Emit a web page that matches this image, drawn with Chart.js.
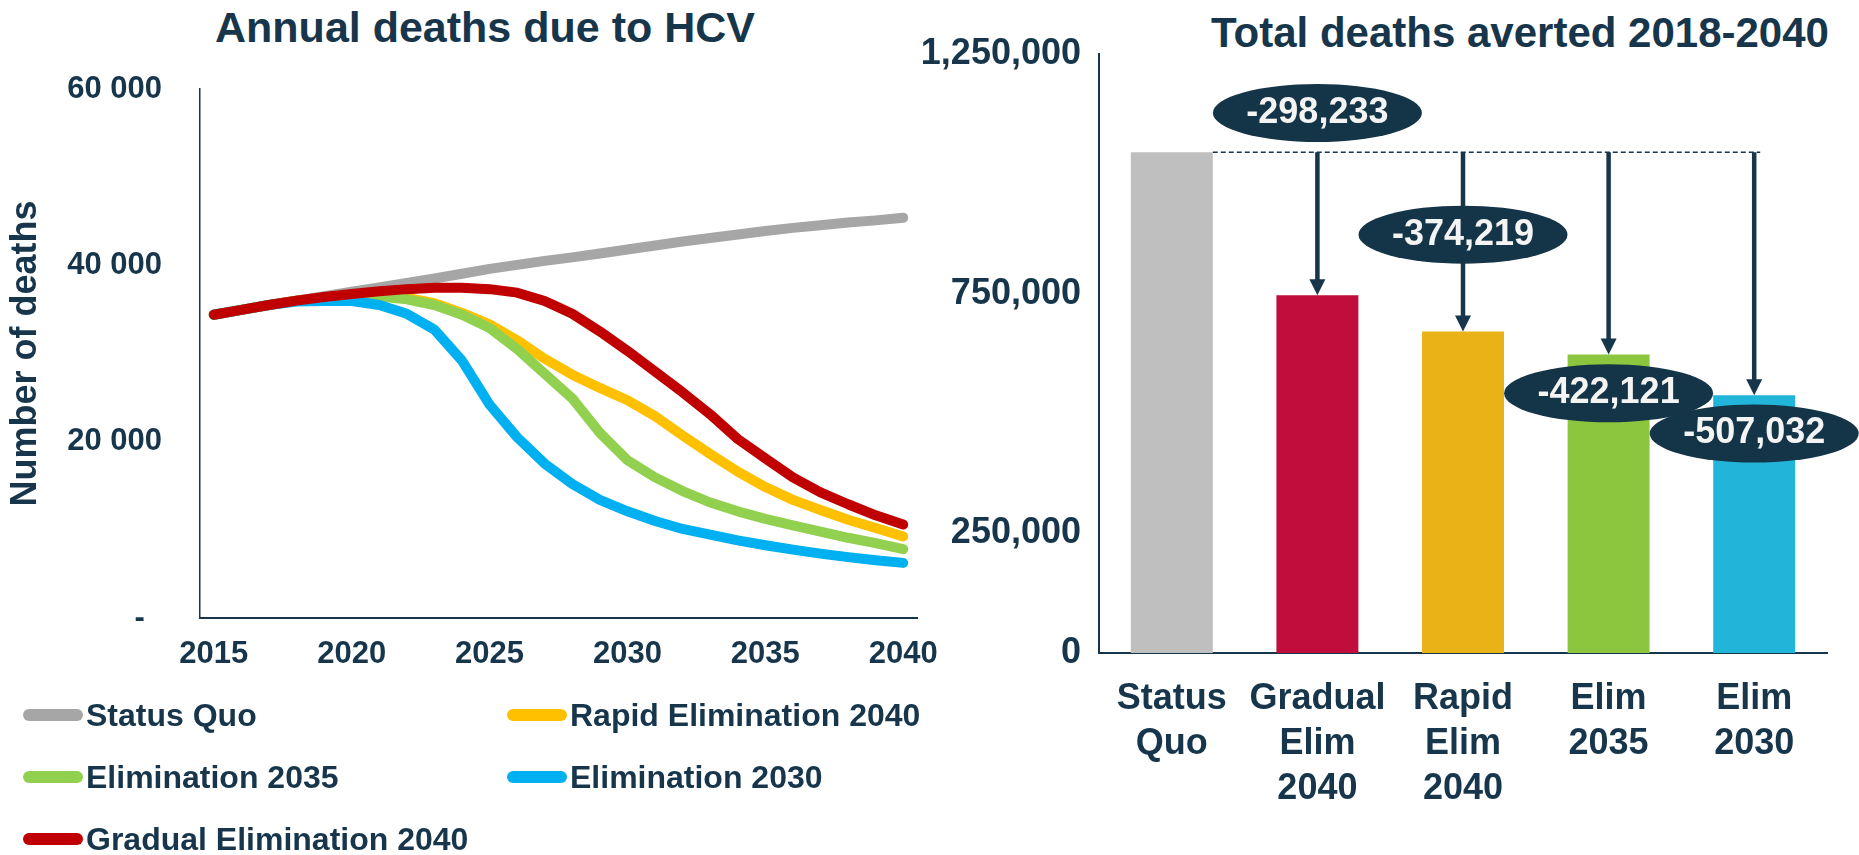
<!DOCTYPE html>
<html>
<head>
<meta charset="utf-8">
<title>HCV deaths</title>
<script src="https://cdn.jsdelivr.net/npm/chart.js@4"></script>
<style>
    html, body { margin: 0; padding: 0; background: #fff; }
    body {
        position: relative; width: 1859px; height: 855px; overflow: hidden;
        font-family: 'Liberation Sans', Arial, sans-serif; font-weight: bold; color: #17364B;
    }
    .title { position: absolute; width: 700px; text-align: center; white-space: nowrap; }
    #lineChart { position: absolute; left: 0; top: 0; }
    #barChart  { position: absolute; left: 910px; top: 0; }
    #legend {
        position: absolute; left: 23px; top: 684px;
        display: grid; grid-template-columns: 484px auto; grid-auto-rows: 62px; align-items: center;
        font-size: 32px; line-height: 32px;
    }
    .lg-item { display: flex; align-items: center; white-space: nowrap; }
    .lg-swatch { width: 60px; height: 12px; border-radius: 6px; margin-right: 3px; }
</style>
</head>
<body>

<div class="title" style="left:135px; top:6px; font-size:43px; line-height:43px;">Annual deaths due to HCV</div>
<div class="title" style="left:1170px; top:12px; font-size:42px; line-height:42px;">Total deaths averted 2018-2040</div>

<canvas id="lineChart" width="960" height="700"></canvas>
<canvas id="barChart" width="949" height="855"></canvas>
<div id="legend"></div>

<script>
'use strict';

/* ── Data: annual deaths due to HCV ─────────────────────────────────────── */
const YEARS = [2015, 2016, 2017, 2018, 2019, 2020, 2021, 2022, 2023, 2024, 2025, 2026, 2027,
               2028, 2029, 2030, 2031, 2032, 2033, 2034, 2035, 2036, 2037, 2038, 2039, 2040];

const STATUS_QUO  = [34400, 34950, 35500, 36000, 36500, 37000, 37500, 38000, 38500, 39050, 39600, 40050, 40500,
                     40900, 41350, 41800, 42250, 42700, 43100, 43500, 43900, 44250, 44550, 44850, 45100, 45400];
const RAPID_2040  = [34400, 34950, 35500, 36000, 36300, 36500, 36500, 36300, 35700, 34600, 33300, 31500, 29400,
                     27600, 26100, 24700, 22900, 20700, 18600, 16600, 14850, 13400, 12250, 11150, 10200, 9250];
const ELIM_2035   = [34400, 34950, 35500, 36000, 36300, 36500, 36450, 36150, 35500, 34400, 32900, 30500, 27700,
                     24900, 21000, 17900, 15950, 14400, 13100, 12100, 11250, 10500, 9800, 9100, 8500, 7800];
const ELIM_2030   = [34400, 34950, 35500, 35900, 35950, 35950, 35500, 34500, 32700, 29200, 24200, 20500, 17500,
                     15200, 13400, 12100, 11000, 10100, 9450, 8800, 8250, 7750, 7300, 6900, 6550, 6250];
const GRADUAL_2040 = [34400, 34950, 35500, 36000, 36400, 36750, 37050, 37300, 37450, 37450, 37300, 36900, 35950,
                      34500, 32500, 30300, 27950, 25600, 23100, 20300, 18100, 15950, 14250, 12900, 11650, 10600];

const SERIES_NAMES  = ['Status Quo', 'Rapid Elimination 2040', 'Elimination 2035', 'Elimination 2030', 'Gradual Elimination 2040'];
const SERIES_VALUES = [STATUS_QUO, RAPID_2040, ELIM_2035, ELIM_2030, GRADUAL_2040];
const SERIES_COLORS = ['#A6A6A6', '#FFC000', '#92D050', '#00B0F0', '#C00000'];

const Y_TICKS = [0, 20000, 40000, 60000];

/* ── Data: total deaths 2018-2040 ────────────────────────────────────────── */
const BAR_LABELS = [['Status', 'Quo'], ['Gradual', 'Elim', '2040'], ['Rapid', 'Elim', '2040'], ['Elim', '2035'], ['Elim', '2030']];
const BAR_VALUES = [1045000, 746767, 670781, 622879, 537968];
const AVERTED    = [298233, 374219, 422121, 507032];
const BAR_COLORS = ['#BFBFBF', '#C00D3C', '#E9B317', '#8CC63E', '#22B5DA'];
const BAR_TICKS_SHOWN = [0, 250000, 750000, 1250000];

/* ── Style ───────────────────────────────────────────────────────────────── */
const NAVY = '#17364B';
const BUBBLE = '#143447';
const FONT = "'Liberation Sans', Arial, sans-serif";
const BUBBLE_AT = [1127000, 873000, 542000, 458000];   // bubble centres, in axis units

const spaced = v => String(v).replace(/\B(?=(\d{3})+(?!\d))/g, ' ');

/* ── Legend (HTML, two columns) ──────────────────────────────────────────── */
const legend = document.getElementById('legend');
SERIES_NAMES.forEach((name, i) => {
    const item = document.createElement('div');
    item.className = 'lg-item';
    item.innerHTML = `<span class="lg-swatch" style="background:${SERIES_COLORS[i]}"></span><span>${name}</span>`;
    legend.appendChild(item);
});

/* ── 1. Annual deaths line chart ─────────────────────────────────────────── */
new Chart(document.getElementById('lineChart'), {
    type: 'line',
    data: {
        labels: YEARS,
        datasets: SERIES_NAMES.map((name, i) => ({
            label: name,
            data: SERIES_VALUES[i],
            borderColor: SERIES_COLORS[i],
            backgroundColor: SERIES_COLORS[i],
            order: SERIES_NAMES.length - 1 - i,   // last series drawn on top
        })),
    },
    options: {
        responsive: false,
        animation: false,
        layout: { padding: { top: 89, right: 43, bottom: 0, left: 0 } },
        elements: {
            point: { radius: 0 },
            line: { tension: 0, borderWidth: 10, borderCapStyle: 'round', borderJoinStyle: 'round' },
        },
        plugins: { legend: { display: false }, tooltip: { enabled: false } },
        scales: {
            x: {
                offset: true,
                grid: { display: false, drawTicks: false },
                border: { color: NAVY, width: 2 },
                ticks: {
                    autoSkip: false, maxRotation: 0, padding: 18, color: NAVY,
                    font: { family: FONT, size: 31, weight: 'bold' },
                    callback: (v, i) => (YEARS[i] % 5 === 0 ? String(YEARS[i]) : ''),
                },
                afterFit: s => { s.height = 82; },
            },
            y: {
                min: 0, max: 60000,
                afterBuildTicks: s => { s.ticks = Y_TICKS.map(v => ({ value: v })); },
                grid: { display: false, drawTicks: false },
                border: { color: NAVY, width: 1.5 },
                ticks: {
                    padding: 38, color: NAVY,
                    font: { family: FONT, size: 31, weight: 'bold' },
                    callback: v => (v === 0 ? '-  ' : spaced(v)),
                },
                title: {
                    display: true, text: 'Number of deaths', color: NAVY,
                    font: { family: FONT, size: 36, weight: 'bold' },
                    padding: { top: 4, bottom: 0 },
                },
                afterFit: s => { s.width = 200; },
            },
        },
    },
});

/* ── 2. Deaths averted bar chart ─────────────────────────────────────────── */
const avertedArrows = {
    id: 'avertedArrows',
    afterDatasetsDraw(chart) {
        const { ctx, scales: { y } } = chart;
        const bars = chart.getDatasetMeta(0).data;
        const baseY = bars[0].y;
        ctx.save();

        // dashed reference line at the status-quo level
        ctx.strokeStyle = NAVY;
        ctx.lineWidth = 1.5;
        ctx.setLineDash([5, 3]);
        ctx.beginPath();
        ctx.moveTo(bars[0].x + bars[0].width / 2, baseY);
        ctx.lineTo(bars[bars.length - 1].x + 6, baseY);
        ctx.stroke();
        ctx.setLineDash([]);

        // arrows down to each scenario
        ctx.fillStyle = NAVY;
        ctx.lineWidth = 4.5;
        for (let i = 1; i < bars.length; i++) {
            const b = bars[i];
            ctx.beginPath();
            ctx.moveTo(b.x, baseY);
            ctx.lineTo(b.x, b.y - 14);
            ctx.stroke();
            ctx.beginPath();
            ctx.moveTo(b.x - 8, b.y - 16);
            ctx.lineTo(b.x + 8, b.y - 16);
            ctx.lineTo(b.x, b.y);
            ctx.closePath();
            ctx.fill();
        }

        // value bubbles
        ctx.font = `bold 36px ${FONT}`;
        ctx.textAlign = 'center';
        ctx.textBaseline = 'middle';
        AVERTED.forEach((v, i) => {
            const cx = bars[i + 1].x;
            const cy = y.getPixelForValue(BUBBLE_AT[i]);
            ctx.fillStyle = BUBBLE;
            ctx.beginPath();
            ctx.ellipse(cx, cy, 104.5, 29, 0, 0, Math.PI * 2);
            ctx.fill();
            ctx.fillStyle = '#F4F4F4';
            ctx.fillText('-' + v.toLocaleString('en-US'), cx, cy);
        });
        ctx.restore();
    },
};

new Chart(document.getElementById('barChart'), {
    type: 'bar',
    data: {
        labels: BAR_LABELS,
        datasets: [{
            data: BAR_VALUES,
            backgroundColor: BAR_COLORS,
            borderWidth: 0,
            barPercentage: 0.563,
            categoryPercentage: 1,
        }],
    },
    options: {
        responsive: false,
        animation: false,
        layout: { padding: { top: 54, right: 32, bottom: 0, left: 0 } },
        plugins: { legend: { display: false }, tooltip: { enabled: false } },
        scales: {
            x: {
                grid: { display: false, drawTicks: false },
                border: { color: NAVY, width: 2 },
                ticks: {
                    autoSkip: false, maxRotation: 0, padding: 24, color: NAVY,
                    font: { family: FONT, size: 36, weight: 'bold', lineHeight: 1.25 },
                },
                afterFit: s => { s.height = 202; },
            },
            y: {
                min: 0, max: 1250000,
                grid: { display: false, drawTicks: false },
                border: { color: NAVY, width: 2 },
                ticks: {
                    stepSize: 250000, padding: 18, color: NAVY,
                    font: { family: FONT, size: 36, weight: 'bold' },
                    callback: v => (BAR_TICKS_SHOWN.includes(v) ? v.toLocaleString('en-US') : ''),
                },
                afterFit: s => { s.width = 189; },
            },
        },
    },
    plugins: [avertedArrows],
});
</script>
</body>
</html>
